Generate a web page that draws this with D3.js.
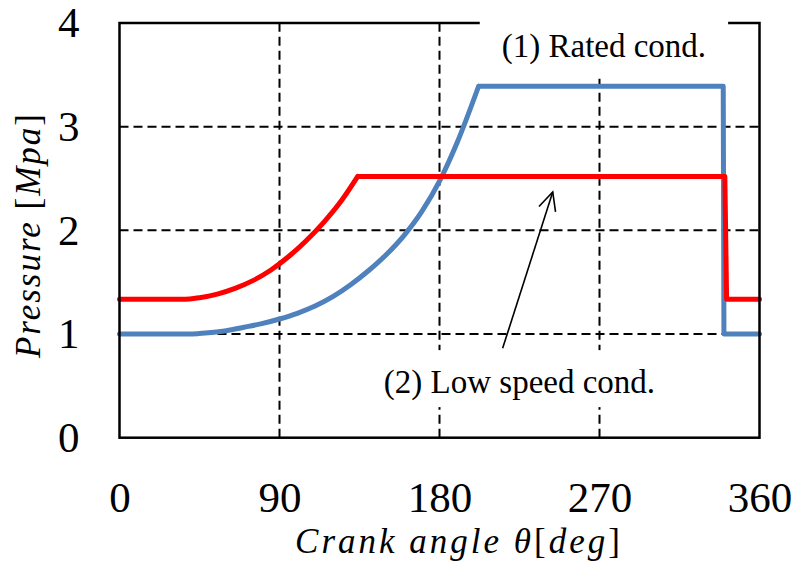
<!DOCTYPE html>
<html>
<head>
<meta charset="utf-8">
<script src="https://cdn.jsdelivr.net/npm/d3@7"></script>
<style>
  html, body { margin: 0; padding: 0; background: #fff; }
  svg { display: block; }
</style>
</head>
<body>
<svg id="chart" width="796" height="566"></svg>
<script>
// Crank angle ticks and pressure ticks
const angleTicks = [0, 90, 180, 270, 360];
const pressureTicks = [0, 1, 2, 3, 4];

// (1) Rated condition: cylinder pressure vs crank angle
const ratedAngle    = [0, 41, 50, 60, 70, 80, 90, 100, 110, 120, 130, 140, 150, 160, 170, 180, 190, 202, 339.6, 340, 360];
const ratedPressure = [1.0, 1.0, 1.012, 1.032, 1.065, 1.10, 1.145, 1.20, 1.27, 1.36, 1.475, 1.61, 1.765, 1.95, 2.18, 2.475, 2.85, 3.39, 3.39, 1.0, 1.0];
const ratedRise = [41, 202];

// (2) Low speed condition
const lowAngle    = [0, 37, 45, 55, 65, 75, 85, 95, 105, 115, 125, 134, 340.5, 341.5, 360];
const lowPressure = [1.335, 1.335, 1.35, 1.385, 1.44, 1.515, 1.615, 1.745, 1.90, 2.08, 2.29, 2.52, 2.52, 1.335, 1.335];
const lowRise = [37, 134];

// Annotation anchors in data coordinates [angle, pressure]
const ratedLabel = { text: "(1) Rated cond.", at: [272.5, 3.67] };
const lowLabel   = { text: "(2) Low speed cond.", at: [225, 0.43] };
const arrowFrom  = [215.5, 0.862];
const arrowTo    = [243.7, 2.37];

const svg = d3.select("#chart");
const x = d3.scaleLinear().domain([0, 360]).range([119.5, 759.5]);
const y = d3.scaleLinear().domain([0, 4]).range([437.7, 23]);

const serif = "'Liberation Serif', 'Times New Roman', serif";

// Dashed grid
const grid = svg.append("g");
grid.selectAll("line.vx").data(angleTicks.filter(d => d > 0 && d < 360)).join("line")
  .attr("x1", d => x(d)).attr("x2", d => x(d))
  .attr("y1", y(0)).attr("y2", y(4))
  .attr("stroke", "#000").attr("stroke-width", 2).attr("stroke-dasharray", "9,5");
grid.selectAll("line.hy").data(pressureTicks.filter(d => d > 0 && d < 4)).join("line")
  .attr("x1", x(0)).attr("x2", x(360))
  .attr("y1", d => y(d)).attr("y2", d => y(d))
  .attr("stroke", "#000").attr("stroke-width", 2).attr("stroke-dasharray", "9,5");

// Series path: flat parts straight, compression rise smooth
function seriesPath(angles, pressures, rise) {
  const pts = angles.map((a, i) => [a, pressures[i]]);
  const lin = d3.line().x(d => x(d[0])).y(d => y(d[1]));
  const smooth = d3.line().x(d => x(d[0])).y(d => y(d[1])).curve(d3.curveMonotoneX);
  const before = pts.filter(p => p[0] <= rise[0]);
  const mid = pts.filter(p => p[0] >= rise[0] && p[0] <= rise[1]);
  const after = pts.filter(p => p[0] >= rise[1]);
  return lin(before) + smooth(mid) + lin(after);
}

svg.append("path")
  .attr("d", seriesPath(ratedAngle, ratedPressure, ratedRise))
  .attr("fill", "none").attr("stroke", "#4F81BD").attr("stroke-width", 5)
  .attr("stroke-linejoin", "round").attr("stroke-linecap", "round");
svg.append("path")
  .attr("d", seriesPath(lowAngle, lowPressure, lowRise))
  .attr("fill", "none").attr("stroke", "#FF0000").attr("stroke-width", 5)
  .attr("stroke-linejoin", "round").attr("stroke-linecap", "round");

// Plot frame
svg.append("rect")
  .attr("x", x(0)).attr("y", y(4))
  .attr("width", x(360) - x(0)).attr("height", y(0) - y(4))
  .attr("fill", "none").attr("stroke", "#000").attr("stroke-width", 2.5);

// Axes (labels only)
const xAxis = svg.append("g").attr("transform", `translate(0,${y(0)})`)
  .call(d3.axisBottom(x).tickValues(angleTicks).tickSize(0).tickPadding(44).tickFormat(d3.format("d")));
const yAxis = svg.append("g").attr("transform", `translate(${x(0)},0)`)
  .call(d3.axisLeft(y).tickValues(pressureTicks).tickSize(0).tickPadding(40).tickFormat(d3.format("d")));
[xAxis, yAxis].forEach(g => {
  g.select(".domain").remove();
  g.selectAll("text").attr("font-family", serif).attr("font-size", 43).attr("fill", "#000");
});

// Axis titles (italic variables, upright brackets)
const xt = svg.append("text")
  .attr("x", 459).attr("y", 553)
  .attr("text-anchor", "middle")
  .attr("font-family", serif).attr("font-size", 35).attr("letter-spacing", 3)
  .attr("fill", "#000");
xt.append("tspan").attr("font-style", "italic").text("Crank angle θ");
xt.append("tspan").text("[");
xt.append("tspan").attr("font-style", "italic").text("deg");
xt.append("tspan").text("]");

const yt = svg.append("text")
  .attr("transform", "translate(40,235) rotate(-90)")
  .attr("text-anchor", "middle")
  .attr("font-family", serif).attr("font-size", 35).attr("letter-spacing", 2)
  .attr("fill", "#000");
yt.append("tspan").attr("font-style", "italic").text("Pressure ");
yt.append("tspan").text("[");
yt.append("tspan").attr("font-style", "italic").text("Mpa");
yt.append("tspan").text("]");

// Annotation labels on white boxes
function boxedLabel(lbl, padX, padTop, padBottom) {
  const g = svg.append("g");
  const rect = g.append("rect").attr("fill", "#fff");
  const t = g.append("text")
    .attr("x", x(lbl.at[0])).attr("y", y(lbl.at[1]))
    .attr("text-anchor", "middle")
    .attr("font-family", serif).attr("font-size", 33).attr("fill", "#000")
    .text(lbl.text);
  const b = t.node().getBBox();
  rect.attr("x", b.x - padX).attr("y", b.y - padTop)
    .attr("width", b.width + 2 * padX).attr("height", b.height + padTop + padBottom);
}
boxedLabel(ratedLabel, 22, 10, 12);
boxedLabel(lowLabel, 8, 14, 6);

// Arrow pointing from the low speed label to its curve
const ax0 = x(arrowFrom[0]), ay0 = y(arrowFrom[1]);
const ax1 = x(arrowTo[0]), ay1 = y(arrowTo[1]);
svg.append("line")
  .attr("x1", ax0).attr("y1", ay0).attr("x2", ax1).attr("y2", ay1)
  .attr("stroke", "#000").attr("stroke-width", 1.6);
const ang = Math.atan2(ay1 - ay0, ax1 - ax0);
const headLen = 20, spread = 0.45;
const wing = s => [ax1 - headLen * Math.cos(ang + s), ay1 - headLen * Math.sin(ang + s)];
svg.append("path")
  .attr("d", d3.line()([wing(-spread), [ax1, ay1], wing(spread)]))
  .attr("fill", "none").attr("stroke", "#000").attr("stroke-width", 1.6);
</script>
</body>
</html>
